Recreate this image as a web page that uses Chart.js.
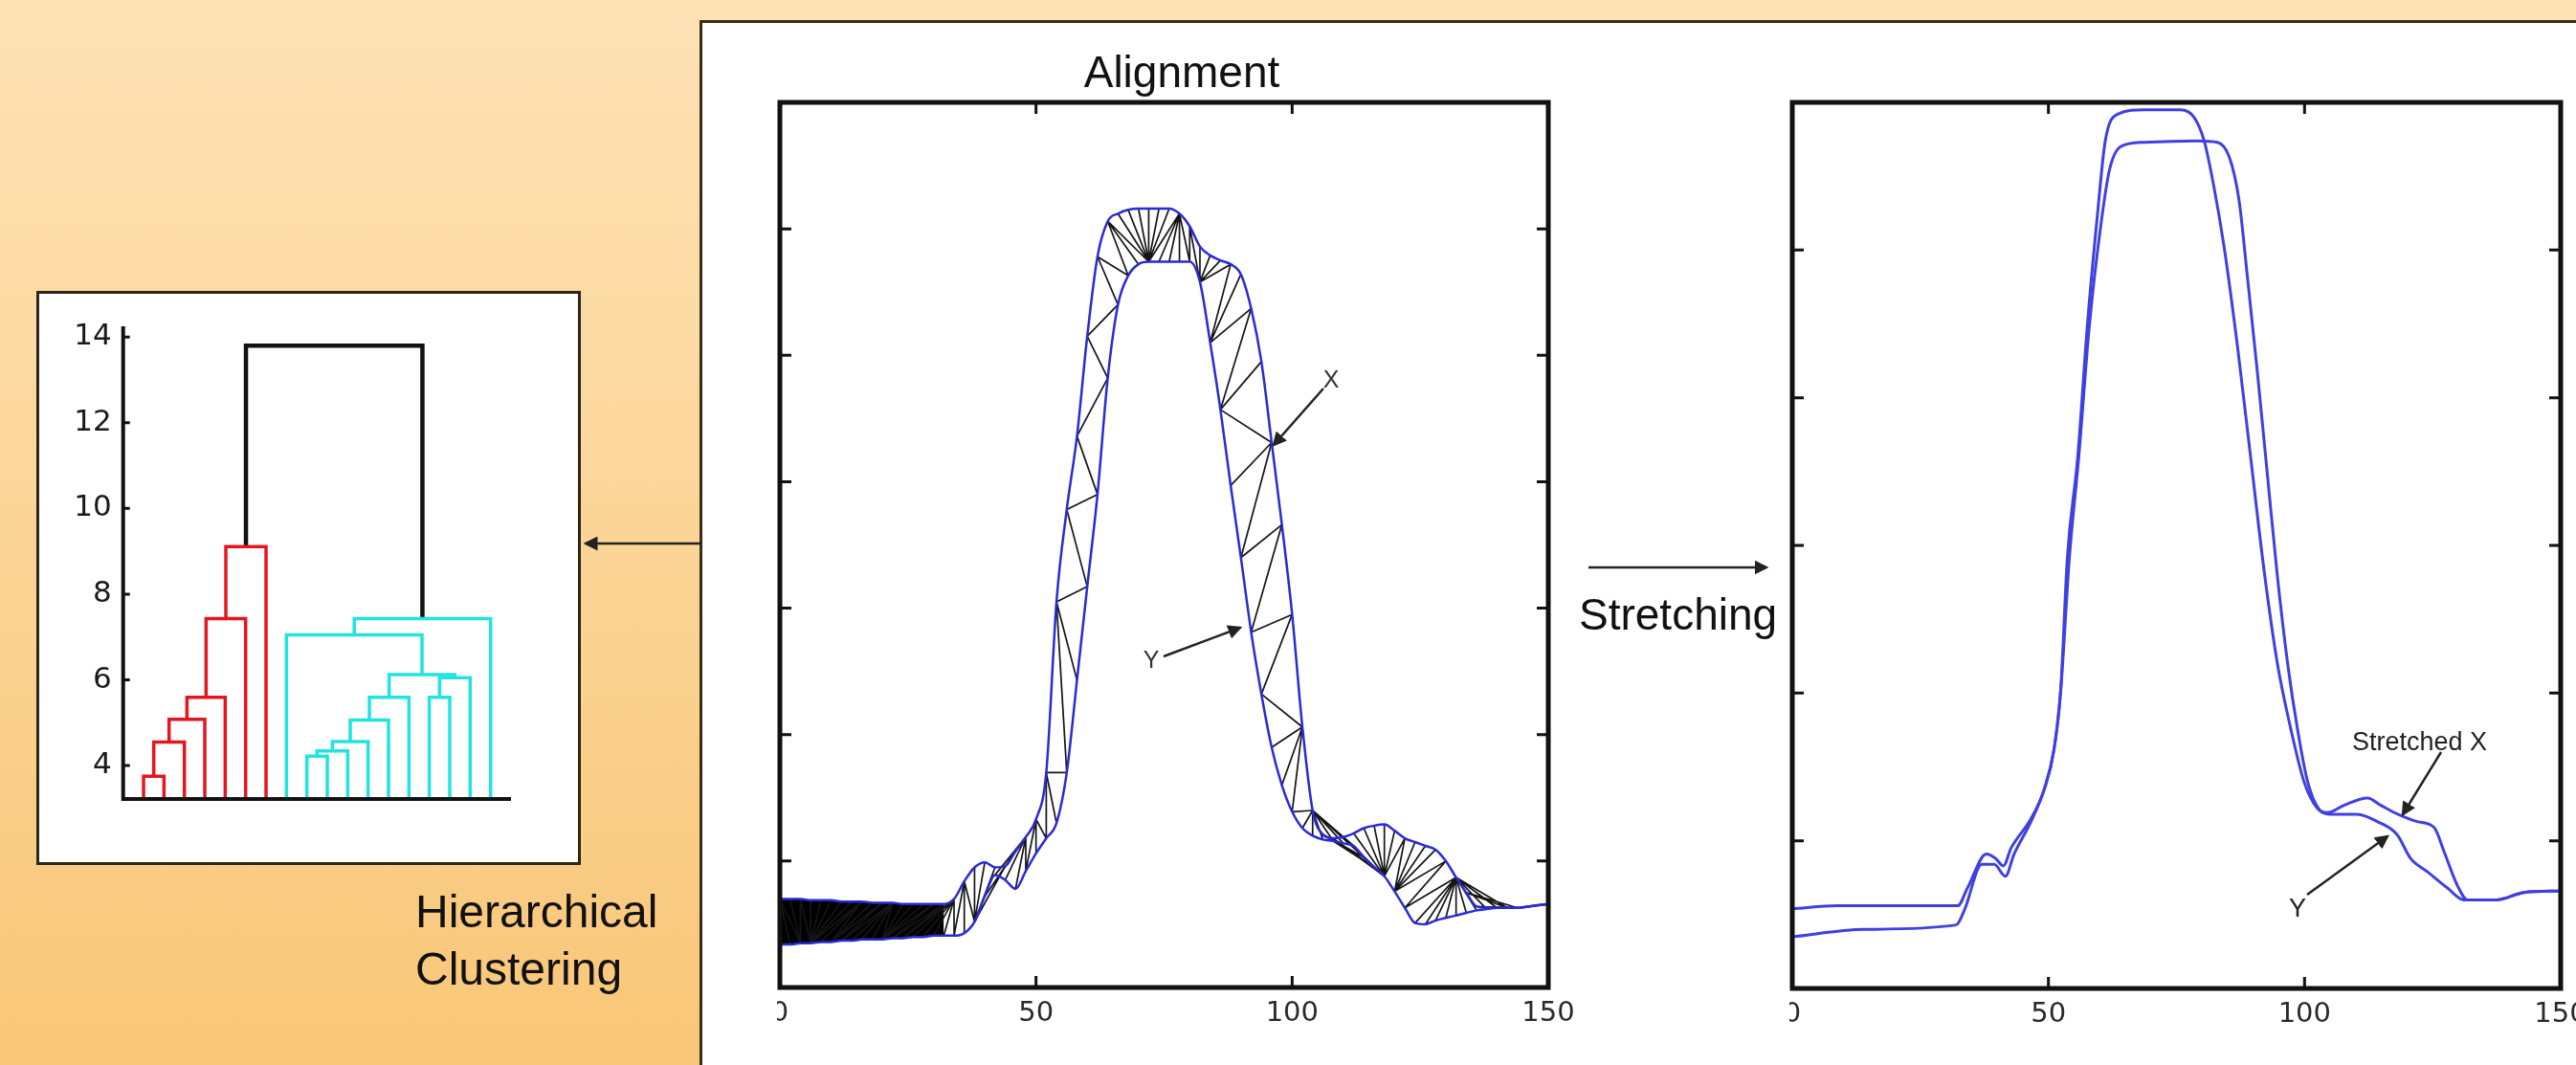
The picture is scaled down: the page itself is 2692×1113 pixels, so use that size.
<!DOCTYPE html>
<html>
<head>
<meta charset="utf-8">
<title>Alignment, stretching and hierarchical clustering</title>
<script src="https://cdn.jsdelivr.net/npm/chart.js@4.4.1/dist/chart.umd.min.js"></script>
<style>
  html, body { margin: 0; padding: 0; }
  body {
    width: 2692px; height: 1113px; overflow: hidden; position: relative;
    background: linear-gradient(to bottom, #fee2b6 0%, #fbd597 50%, #f8c677 100%);
    font-family: "Liberation Sans", Arial, sans-serif;
  }
  #panel {
    position: absolute; left: 731px; top: 21px; width: 2100px; height: 1200px;
    background: #fff; border-left: 3px solid #3a2b14; border-top: 3px solid #3a2b14;
    box-sizing: border-box;
  }
  #dendroBox {
    position: absolute; left: 38px; top: 304px; width: 569px; height: 600px;
    background: #fff; border: 3px solid #2d2717; box-sizing: border-box;
  }
  canvas { position: absolute; }
  #notes { position: absolute; left: 0; top: 0; }
</style>
</head>
<body>
<div id="panel"></div>
<div id="dendroBox"></div>
<canvas id="dendroChart" width="520" height="540" style="left:40px;top:320px"></canvas>
<canvas id="alignChart" width="850" height="990" style="left:812px;top:100px"></canvas>
<canvas id="stretchChart" width="822" height="990" style="left:1870px;top:100px"></canvas>

<svg id="notes" width="2692" height="1113" xmlns="http://www.w3.org/2000/svg">
  <defs>
    <marker id="head" markerWidth="6" markerHeight="6" refX="5" refY="3" orient="auto" markerUnits="strokeWidth">
      <path d="M0,0 L6,3 L0,6 z" fill="#222"/>
    </marker>
  </defs>
  <g font-family="Liberation Sans, Arial, sans-serif" fill="#111">
    <text x="1235" y="91" font-size="46" text-anchor="middle">Alignment</text>
    <text x="1650" y="658" font-size="46">Stretching</text>
    <text x="434" y="969" font-size="48">Hierarchical</text>
    <text x="434" y="1029" font-size="48">Clustering</text>
    <text x="1391" y="405" font-size="25" fill="#333" text-anchor="middle">X</text>
    <text x="1203" y="698" font-size="25" fill="#333" text-anchor="middle">Y</text>
    <text x="2458" y="784" font-size="27" fill="#222">Stretched X</text>
    <text x="2401" y="958" font-size="27" fill="#222" text-anchor="middle">Y</text>
  </g>
  <g stroke="#222" stroke-width="2.5" fill="none" marker-end="url(#head)">
    <line x1="732" y1="568" x2="612" y2="568"/>
    <line x1="1660" y1="593" x2="1846" y2="593"/>
    <line x1="1383" y1="406" x2="1331" y2="465"/>
    <line x1="1216" y1="686" x2="1296" y2="656"/>
    <line x1="2551" y1="786" x2="2511" y2="851"/>
    <line x1="2411" y1="935" x2="2495" y2="874"/>
  </g>
</svg>

<script>
Chart.defaults.font.family = '"DejaVu Sans", Verdana, sans-serif';

// ---- dendrogram: leaves 1..18 in display order, rows = [node a, node b, height]
const dendroYTicks = [4, 6, 8, 10, 12, 14];
const linkage = [
  [1, 2, 3.75], [19, 3, 4.55], [20, 4, 5.08], [21, 5, 5.59], [22, 6, 7.43], [23, 7, 9.11],
  [9, 10, 4.22], [25, 11, 4.34], [26, 12, 4.56], [27, 13, 5.06], [28, 14, 5.59],
  [15, 16, 5.59], [30, 17, 6.05], [29, 31, 6.12], [8, 32, 7.05], [33, 18, 7.43],
  [24, 34, 13.8]
];
const linkGroup = ['red', 'red', 'red', 'red', 'red', 'red',
  'cyan', 'cyan', 'cyan', 'cyan', 'cyan', 'cyan', 'cyan', 'cyan', 'cyan', 'cyan',
  'top'];
const leafCount = 18;

// ---- alignment plot: both series sampled every 2 units of time
const xTicks = [0, 50, 100, 150];
const alignYTicks = [1, 2, 3, 4, 5, 6];
const alignT = [0, 2, 4, 6, 8, 10, 12, 14, 16, 18, 20, 22, 24, 26, 28, 30, 32, 34, 36, 38,
  40, 42, 44, 46, 48, 50, 52, 54, 56, 58, 60, 62, 64, 66, 68, 70, 72, 74, 76, 78,
  80, 82, 84, 86, 88, 90, 92, 94, 96, 98, 100, 102, 104, 106, 108, 110, 112, 114, 116, 118,
  120, 122, 124, 126, 128, 130, 132, 134, 136, 138, 140, 142, 144, 146, 148, 150];
const alignX = [0.70, 0.70, 0.70, 0.69, 0.69, 0.69, 0.68, 0.68, 0.68, 0.67, 0.67, 0.67, 0.66, 0.66, 0.66, 0.66, 0.66, 0.70, 0.84, 0.95,
  0.99, 0.95, 0.96, 1.08, 1.19, 1.33, 1.70, 3.05, 3.78, 4.36, 5.15, 5.78, 6.06, 6.12, 6.15, 6.16, 6.16, 6.16, 6.16, 6.12,
  6.02, 5.86, 5.79, 5.75, 5.72, 5.64, 5.37, 4.95, 4.31, 3.66, 2.95, 2.06, 1.40, 1.21, 1.18, 1.19, 1.22, 1.26, 1.28, 1.29,
  1.24, 1.18, 1.15, 1.12, 1.09, 1.00, 0.87, 0.75, 0.64, 0.63, 0.63, 0.63, 0.63, 0.64, 0.65, 0.66];
const alignY = [0.34, 0.34, 0.35, 0.35, 0.36, 0.36, 0.37, 0.37, 0.38, 0.38, 0.38, 0.39, 0.39, 0.40, 0.40, 0.41, 0.41, 0.41, 0.43, 0.52,
  0.72, 0.89, 0.85, 0.78, 0.92, 1.06, 1.18, 1.30, 1.70, 2.43, 3.17, 3.90, 4.82, 5.40, 5.63, 5.72, 5.74, 5.74, 5.74, 5.74,
  5.74, 5.58, 5.10, 4.57, 3.97, 3.40, 2.81, 2.32, 1.90, 1.60, 1.39, 1.26, 1.20, 1.17, 1.16, 1.14, 1.12, 1.03, 0.95, 0.88,
  0.76, 0.63, 0.51, 0.50, 0.53, 0.55, 0.57, 0.59, 0.61, 0.62, 0.63, 0.63, 0.63, 0.64, 0.65, 0.66];
const flatEnd = 32;        // the flat stretch where the links merge into a solid band
const warpOffset = 0.35;   // X is drawn lifted by about this much
const warpWindow = 5;      // samples

// ---- stretched plot
const stretchYTicks = [1, 2, 3, 4, 5];
const stretchedXT = [0, 8.8, 32.3, 34.2, 37.9, 39.7, 41.2, 42.7, 46.6, 49.2, 51.1, 52.4, 53.7, 55.7, 57.6, 59.6, 61.1, 63.5, 68.7, 75.8,
  78.4, 80.4, 82.3, 84.3, 86.9, 89.5, 92.1, 94.7, 97.3, 99.9, 102.5, 104.5, 107.7, 112.3, 114.9, 118.2, 122.0, 125.3, 127.2, 129.8,
  131.8, 137.6, 142.8, 150];
const stretchedXV = [0.54, 0.56, 0.56, 0.68, 0.91, 0.88, 0.83, 0.95, 1.15, 1.35, 1.62, 2.02, 2.92, 3.59, 4.49, 5.25, 5.74, 5.92, 5.95, 5.95,
  5.90, 5.74, 5.43, 5.02, 4.35, 3.59, 2.83, 2.20, 1.76, 1.40, 1.22, 1.19, 1.24, 1.29, 1.24, 1.18, 1.13, 1.09, 0.93, 0.70,
  0.60, 0.60, 0.65, 0.66];
const targetYT = [0, 14.0, 32.0, 33.6, 37.0, 39.4, 41.6, 43.3, 46.6, 49.2, 51.1, 52.4, 54.1, 55.9, 58.0, 60.2, 61.9, 64.1, 68.7, 79.1,
  83.0, 85.3, 87.2, 88.9, 90.8, 92.8, 94.7, 96.7, 98.6, 100.6, 103.2, 105.1, 110.3, 114.2, 118.1, 120.7, 124.0, 127.9, 131.1, 137.6,
  142.8, 150];
const targetYV = [0.35, 0.40, 0.43, 0.53, 0.84, 0.84, 0.76, 0.91, 1.13, 1.35, 1.62, 2.02, 2.92, 3.59, 4.49, 5.16, 5.54, 5.70, 5.73, 5.74,
  5.73, 5.63, 5.34, 4.80, 4.17, 3.46, 2.79, 2.20, 1.76, 1.40, 1.20, 1.18, 1.18, 1.13, 1.04, 0.88, 0.79, 0.68, 0.60, 0.60,
  0.65, 0.66];

const groupColour = { red: '#e3171f', cyan: '#22e3e0', top: '#111111' };
const groupWidth = { red: 3.5, cyan: 3.5, top: 4.5 };

// box with inward tick marks (matlab style), drawn through the chart's own scales
function makeFrame(cfg) {
  return {
    id: 'frame',
    afterDatasetsDraw(chart) {
      const { ctx, chartArea: a, scales } = chart;
      const sx = scales.x, sy = scales.y;
      ctx.save();
      ctx.strokeStyle = '#111';
      ctx.lineWidth = cfg.tickWidth;
      ctx.beginPath();
      (cfg.xTicks || []).forEach(v => {
        const p = sx.getPixelForValue(v);
        ctx.moveTo(p, a.bottom); ctx.lineTo(p, a.bottom - cfg.tickLen);
        if (cfg.box) { ctx.moveTo(p, a.top); ctx.lineTo(p, a.top + cfg.tickLen); }
      });
      (cfg.yTicks || []).forEach(v => {
        const p = sy.getPixelForValue(v);
        ctx.moveTo(a.left, p); ctx.lineTo(a.left + cfg.tickLen, p);
        if (cfg.box) { ctx.moveTo(a.right, p); ctx.lineTo(a.right - cfg.tickLen, p); }
      });
      ctx.stroke();
      ctx.lineWidth = cfg.lineWidth;
      ctx.beginPath();
      if (cfg.box) {
        ctx.rect(a.left, a.top, a.width, a.height);
      } else {
        ctx.moveTo(a.left, a.top); ctx.lineTo(a.left, a.bottom); ctx.lineTo(a.right, a.bottom);
      }
      ctx.stroke();
      ctx.restore();
    }
  };
}

const toPoints = (ts, vs) => ts.map((t, i) => ({ x: t, y: vs[i] }));

// dynamic time warping, single steps only, inside a band window
function warpPath(a, b, w) {
  const n = a.length, m = b.length;
  const D = [];
  for (let i = 0; i < n; i++) {
    D.push(new Array(m).fill(Infinity));
    for (let j = Math.max(0, i - w); j <= Math.min(m - 1, i + w); j++) {
      const c = Math.abs(a[i] - b[j]);
      if (i === 0 && j === 0) { D[i][j] = c; continue; }
      const up = i > 0 ? D[i - 1][j] : Infinity;
      const left = j > 0 ? D[i][j - 1] : Infinity;
      D[i][j] = c + Math.min(up, left);
    }
  }
  let i = n - 1, j = m - 1;
  const path = [[i, j]];
  while (i > 0 || j > 0) {
    if (i === 0) j--;
    else if (j === 0) i--;
    else if (D[i - 1][j] < D[i][j - 1]) i--;
    else j--;
    path.push([i, j]);
  }
  return path.reverse();
}

const warpSegments = [];
warpPath(alignX.map(v => v - warpOffset), alignY, warpWindow).forEach(([i, j]) => {
  warpSegments.push({ x: alignT[i], y: alignX[i] }, { x: alignT[j], y: alignY[j] }, { x: alignT[j], y: null });
});
const flatCount = alignT.filter(t => t <= flatEnd).length;

// dendrogram node positions
const nodeX = {}, nodeH = {};
for (let k = 1; k <= leafCount; k++) { nodeX[k] = k; nodeH[k] = 0; }
const dendroSets = linkage.map(([a, b, h], r) => {
  const id = leafCount + r + 1;
  nodeX[id] = (nodeX[a] + nodeX[b]) / 2;
  nodeH[id] = h;
  const g = linkGroup[r];
  return {
    data: [{ x: nodeX[a], y: nodeH[a] }, { x: nodeX[a], y: h }, { x: nodeX[b], y: h }, { x: nodeX[b], y: nodeH[b] }],
    borderColor: groupColour[g], borderWidth: groupWidth[g], pointRadius: 0, tension: 0,
    borderJoinStyle: 'miter'
  };
});

const common = {
  responsive: false, animation: false, events: [],
  plugins: { legend: { display: false }, tooltip: { enabled: false } }
};

new Chart(document.getElementById('dendroChart'), {
  type: 'line',
  data: { datasets: dendroSets },
  options: {
    ...common,
    layout: { padding: { left: 0, right: 26, top: 21, bottom: 25 } },
    scales: {
      x: { type: 'linear', min: 0, max: 19, display: false },
      y: {
        type: 'linear', min: 3.22, max: 14.25,
        grid: { display: false, drawTicks: false }, border: { display: false },
        afterBuildTicks: s => { s.ticks = dendroYTicks.map(v => ({ value: v })); },
        afterFit: s => { s.width = 88.7; s.paddingTop = 0; s.paddingBottom = 0; },
        ticks: { font: { size: 31 }, color: '#1a1a1a', padding: 12 }
      }
    }
  },
  plugins: [makeFrame({ box: false, yTicks: dendroYTicks, tickLen: 7, tickWidth: 3, lineWidth: 4 })]
});

function curveChart(id, pad, xH, yMax, yTicks, datasets) {
  return new Chart(document.getElementById(id), {
    type: 'line',
    data: { datasets },
    options: {
      ...common,
      layout: { padding: pad },
      scales: {
        x: {
          type: 'linear', min: 0, max: 150,
          grid: { display: false, drawTicks: false }, border: { display: false },
          afterBuildTicks: s => { s.ticks = xTicks.map(v => ({ value: v })); },
          afterFit: s => { s.height = xH; s.paddingLeft = 0; s.paddingRight = 0; },
          ticks: { font: { size: 29 }, color: '#2a2a2a', padding: 10, maxRotation: 0, autoSkip: false }
        },
        y: { type: 'linear', min: 0, max: yMax, display: false }
      }
    },
    plugins: [makeFrame({ box: true, xTicks, yTicks, tickLen: 12, tickWidth: 3, lineWidth: 5 })]
  });
}

curveChart('alignChart', { left: 3, right: 44, top: 7, bottom: 0 }, 58, 7, alignYTicks, [
  { label: 'X', data: toPoints(alignT, alignX), borderColor: '#2a2ad6', borderWidth: 2.5, pointRadius: 0, cubicInterpolationMode: 'monotone' },
  { label: 'Y', data: toPoints(alignT, alignY), borderColor: '#2a2ad6', borderWidth: 2.5, pointRadius: 0, cubicInterpolationMode: 'monotone' },
  { label: 'warp', data: warpSegments, borderColor: '#151515', borderWidth: 1.7, pointRadius: 0, tension: 0, spanGaps: false },
  { label: 'flat links', data: toPoints(alignT.slice(0, flatCount), alignX.slice(0, flatCount)),
    borderWidth: 0, pointRadius: 0, cubicInterpolationMode: 'monotone', fill: 1, backgroundColor: '#000' }
]);

curveChart('stretchChart', { left: 3, right: 16, top: 7, bottom: 0 }, 57, 6, stretchYTicks, [
  { label: 'Stretched X', data: toPoints(stretchedXT, stretchedXV), borderColor: '#4040e2', borderWidth: 3, pointRadius: 0, cubicInterpolationMode: 'monotone' },
  { label: 'Y', data: toPoints(targetYT, targetYV), borderColor: '#4040e2', borderWidth: 3, pointRadius: 0, cubicInterpolationMode: 'monotone' }
]);
</script>
</body>
</html>
